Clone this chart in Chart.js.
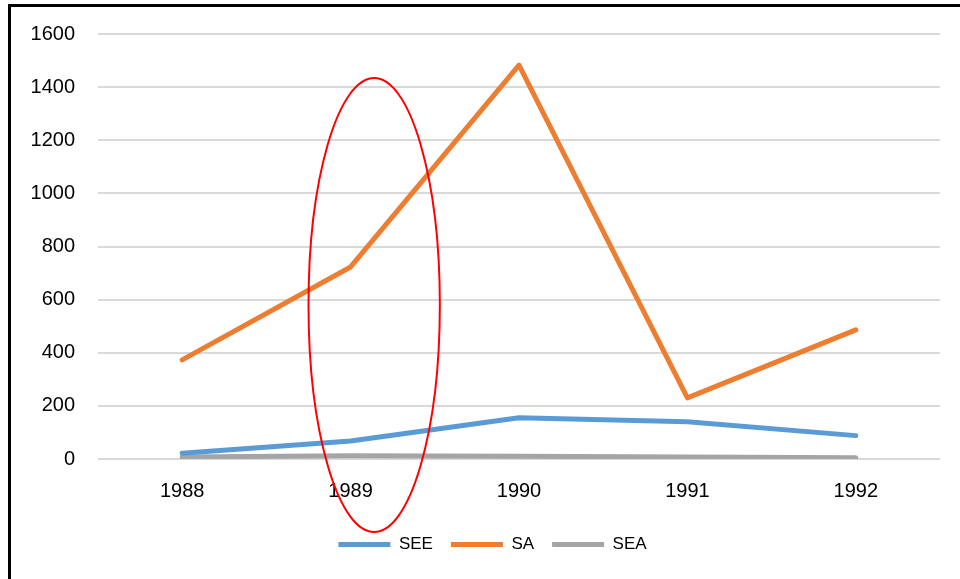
<!DOCTYPE html>
<html lang="en">
<head>
    <meta charset="UTF-8">
    <title>SEE / SA / SEA</title>
    <style>
        html, body {
            margin: 0;
            padding: 0;
            background: #ffffff;
            overflow: hidden;
        }

        .frame {
            position: absolute;
            left: 8px;
            top: 4px;
            width: 1000px;
            height: 600px;
            border-left: 3px solid #000;
            border-top: 3px solid #000;
        }

        .chart-box {
            position: absolute;
            left: 0;
            top: 0;
            width: 949px;
            height: 572px;
        }
    </style>
    <script src="https://cdn.jsdelivr.net/npm/chart.js@4.4.0/dist/chart.umd.min.js"></script>
</head>
<body>
    <div class="frame">
        <div class="chart-box">
            <canvas id="line-chart"></canvas>
        </div>
    </div>

    <script>
        const years = ['1988', '1989', '1990', '1991', '1992'];
        const seeValues = [22, 68, 155, 140, 88];
        const saValues = [373, 723, 1483, 230, 486];
        const seaValues = [8, 12, 10, 8, 5];
        const yTicks = [0, 200, 400, 600, 800, 1000, 1200, 1400, 1600];

        // red ellipse marked round 1989 (in data units: category index, value)
        const ellipseMark = { x: 1.14, halfWidth: 0.39, yTop: 1434, yBottom: -275 };

        const ellipsePlugin = {
            id: 'ellipseMark',
            afterDraw(chart) {
                const xs = chart.scales.x;
                const ys = chart.scales.y;
                const cx = xs.getPixelForValue(ellipseMark.x);
                const rx = xs.getPixelForValue(ellipseMark.x + ellipseMark.halfWidth) - cx;
                const top = ys.getPixelForValue(ellipseMark.yTop);
                const bottom = ys.getPixelForValue(ellipseMark.yBottom);
                const ctx = chart.ctx;
                ctx.save();
                ctx.strokeStyle = '#ff0000';
                ctx.lineWidth = 2;
                ctx.beginPath();
                ctx.ellipse(cx, (top + bottom) / 2, rx, (bottom - top) / 2, 0, 0, Math.PI * 2);
                ctx.stroke();
                ctx.restore();
            }
        };

        // the legend in the original sits a bit right of the canvas middle
        const legendShift = {
            id: 'legendShift',
            afterLayout(chart) {
                chart.legend.left += 17;
                chart.legend.right += 17;
            }
        };

        function lineSet(label, data, color) {
            return {
                label: label,
                data: data,
                borderColor: color,
                backgroundColor: color,
                borderWidth: 5,
                borderCapStyle: 'round',
                borderJoinStyle: 'round',
                pointRadius: 0,
                tension: 0
            };
        }

        const ctx = document.getElementById('line-chart').getContext('2d');
        new Chart(ctx, {
            type: 'line',
            data: {
                labels: years,
                datasets: [
                    lineSet('SEE', seeValues, '#5B9BD5'),
                    lineSet('SA', saValues, '#ED7D31'),
                    lineSet('SEA', seaValues, '#A5A5A5')
                ]
            },
            options: {
                responsive: true,
                maintainAspectRatio: false,
                animation: false,
                layout: {
                    padding: { left: 0, right: 20, top: 27, bottom: 16 }
                },
                scales: {
                    x: {
                        offset: true,
                        grid: { display: false },
                        border: { display: false },
                        ticks: {
                            color: '#000',
                            padding: 12,
                            font: { family: 'Liberation Sans', size: 20 }
                        },
                        afterFit(scale) { scale.height = 59; }
                    },
                    y: {
                        min: 0,
                        max: 1600,
                        afterBuildTicks(scale) {
                            scale.ticks = yTicks.map(v => ({ value: v }));
                        },
                        grid: { color: '#d9d9d9', lineWidth: 2, drawTicks: false },
                        border: { display: false },
                        ticks: {
                            color: '#000',
                            padding: 23,
                            font: { family: 'Liberation Sans', size: 20 },
                            callback: v => String(v)
                        },
                        afterFit(scale) {
                            scale.width = 87;
                            scale.paddingTop = 0;
                            scale.paddingBottom = 0;
                        }
                    }
                },
                plugins: {
                    legend: {
                        position: 'bottom',
                        labels: {
                            usePointStyle: true,
                            pointStyle: 'line',
                            pointStyleWidth: 52,
                            color: '#000',
                            padding: 18,
                            font: { family: 'Liberation Sans', size: 17 }
                        }
                    },
                    tooltip: { enabled: false }
                }
            },
            plugins: [ellipsePlugin, legendShift]
        });
    </script>
</body>
</html>
